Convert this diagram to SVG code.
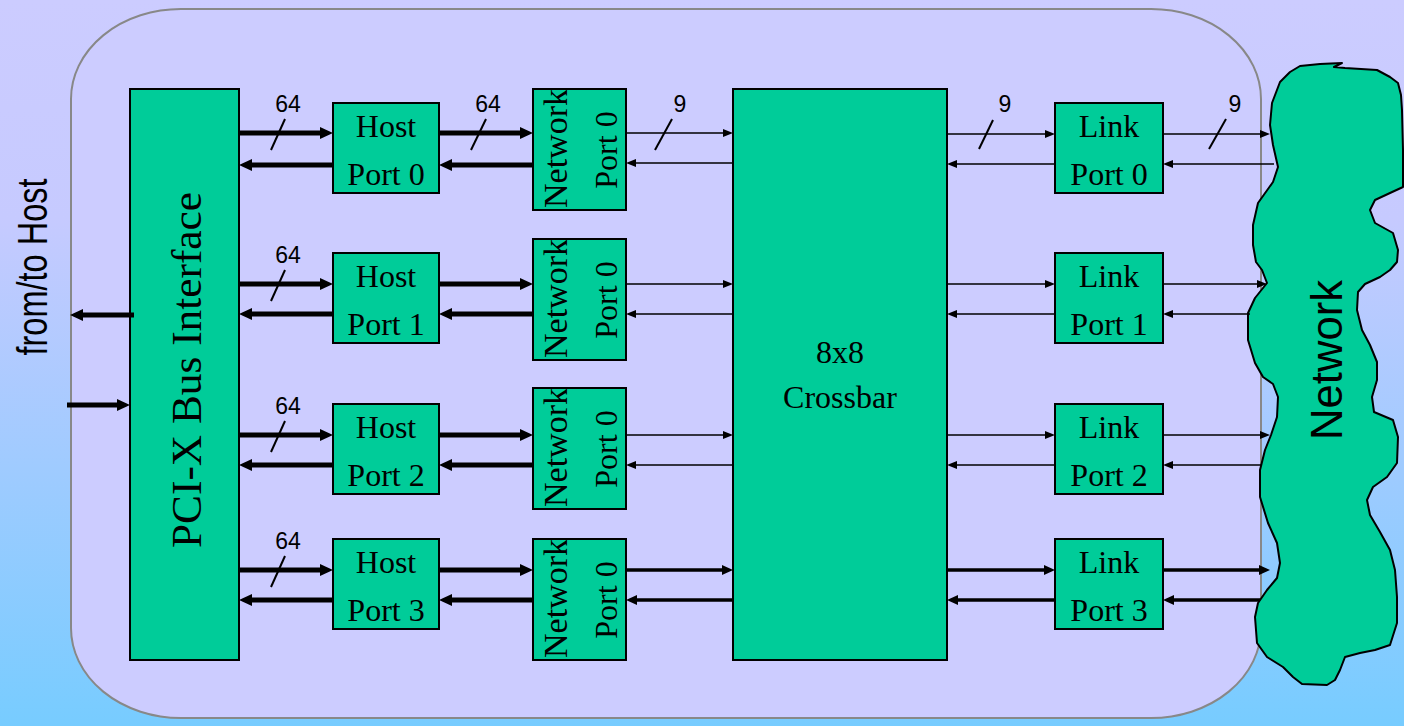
<svg xmlns="http://www.w3.org/2000/svg" width="1404" height="726" viewBox="0 0 1404 726">
<defs>
  <linearGradient id="bg" x1="0" y1="0" x2="0" y2="1">
    <stop offset="0" stop-color="#CCCCFF"/>
    <stop offset="0.3" stop-color="#C6CAFF"/>
    <stop offset="1" stop-color="#77CCFF"/>
  </linearGradient>
  <marker id="hT" markerUnits="userSpaceOnUse" viewBox="0 -7 14 14" markerWidth="14" markerHeight="14" refX="0" refY="0" orient="auto">
    <path d="M0,-6 L13,0 L0,6 z" fill="#000"/>
  </marker>
  <marker id="hM" markerUnits="userSpaceOnUse" viewBox="0 -6 12 12" markerWidth="12" markerHeight="12" refX="0" refY="0" orient="auto">
    <path d="M0,-5 L11,0 L0,5 z" fill="#000"/>
  </marker>
  <marker id="hS" markerUnits="userSpaceOnUse" viewBox="0 -5 11 10" markerWidth="11" markerHeight="10" refX="0" refY="0" orient="auto">
    <path d="M0,-4 L10,0 L0,4 z" fill="#000"/>
  </marker>
</defs>
<style>
  .box { fill: #00CC99; stroke: #000; stroke-width: 2; }
  .serif { font-family: "Liberation Serif", "Times New Roman", serif; fill: #000; }
  .sans { font-family: "Liberation Sans", Arial, sans-serif; fill: #000; }
  .t32 { font-size: 32px; }
  .lbl { font-size: 23px; text-anchor: middle; }
  .mid { text-anchor: middle; }
  .thick { stroke: #000; stroke-width: 5; fill: none; marker-end: url(#hT); }
  .med { stroke: #000; stroke-width: 3.5; fill: none; marker-end: url(#hM); }
  .thin { stroke: #000; stroke-width: 1.5; fill: none; marker-end: url(#hS); }
  .slash { stroke: #000; stroke-width: 2; fill: none; }
</style>

<rect x="0" y="0" width="1404" height="726" fill="url(#bg)"/>

<g id="container">
  <rect x="71" y="9" width="1190" height="709" rx="110" ry="90" fill="#CCCCFF" stroke="#888888" stroke-width="2"/>
</g>

<g id="label-host">
  <text class="sans mid" font-size="42" textLength="177" lengthAdjust="spacingAndGlyphs" transform="translate(47,267) rotate(-90)">from/to Host</text>
</g>

<g id="pci">
  <rect class="box" x="130" y="89" width="109" height="571"/>
  <text class="serif mid" font-size="42" textLength="356" lengthAdjust="spacingAndGlyphs" transform="translate(201,370) rotate(-90)">PCI-X Bus Interface</text>
</g>

<g id="host0">
  <rect class="box" x="333" y="103" width="106" height="90"/>
  <text class="serif t32 mid" x="386" y="137">Host</text>
  <text class="serif t32 mid" x="386" y="185">Port 0</text>
</g>
<g id="host1">
  <rect class="box" x="333" y="253" width="106" height="90"/>
  <text class="serif t32 mid" x="386" y="287">Host</text>
  <text class="serif t32 mid" x="386" y="335">Port 1</text>
</g>
<g id="host2">
  <rect class="box" x="333" y="404" width="106" height="90"/>
  <text class="serif t32 mid" x="386" y="438">Host</text>
  <text class="serif t32 mid" x="386" y="486">Port 2</text>
</g>
<g id="host3">
  <rect class="box" x="333" y="539" width="106" height="90"/>
  <text class="serif t32 mid" x="386" y="573">Host</text>
  <text class="serif t32 mid" x="386" y="621">Port 3</text>
</g>

<g id="net0">
  <rect class="box" x="533" y="89" width="93" height="121"/>
  <text class="serif" font-size="33" textLength="119" lengthAdjust="spacingAndGlyphs" transform="translate(567,208) rotate(-90)">Network</text>
  <text class="serif t32 mid" transform="translate(617,150) rotate(-90)">Port 0</text>
</g>
<g id="net1">
  <rect class="box" x="533" y="239" width="93" height="121"/>
  <text class="serif" font-size="33" textLength="119" lengthAdjust="spacingAndGlyphs" transform="translate(567,358) rotate(-90)">Network</text>
  <text class="serif t32 mid" transform="translate(617,300) rotate(-90)">Port 0</text>
</g>
<g id="net2">
  <rect class="box" x="533" y="388" width="93" height="121"/>
  <text class="serif" font-size="33" textLength="119" lengthAdjust="spacingAndGlyphs" transform="translate(567,507) rotate(-90)">Network</text>
  <text class="serif t32 mid" transform="translate(617,449) rotate(-90)">Port 0</text>
</g>
<g id="net3">
  <rect class="box" x="533" y="539" width="93" height="121"/>
  <text class="serif" font-size="33" textLength="119" lengthAdjust="spacingAndGlyphs" transform="translate(567,658) rotate(-90)">Network</text>
  <text class="serif t32 mid" transform="translate(617,600) rotate(-90)">Port 0</text>
</g>

<g id="crossbar">
  <rect class="box" x="733" y="89" width="214" height="571"/>
  <text class="serif t32 mid" x="840" y="363">8x8</text>
  <text class="serif t32 mid" x="840" y="408">Crossbar</text>
</g>

<g id="link0">
  <rect class="box" x="1055" y="103" width="108" height="90"/>
  <text class="serif t32 mid" x="1109" y="137">Link</text>
  <text class="serif t32 mid" x="1109" y="185">Port 0</text>
</g>
<g id="link1">
  <rect class="box" x="1055" y="253" width="108" height="90"/>
  <text class="serif t32 mid" x="1109" y="287">Link</text>
  <text class="serif t32 mid" x="1109" y="335">Port 1</text>
</g>
<g id="link2">
  <rect class="box" x="1055" y="404" width="108" height="90"/>
  <text class="serif t32 mid" x="1109" y="438">Link</text>
  <text class="serif t32 mid" x="1109" y="486">Port 2</text>
</g>
<g id="link3">
  <rect class="box" x="1055" y="539" width="108" height="90"/>
  <text class="serif t32 mid" x="1109" y="573">Link</text>
  <text class="serif t32 mid" x="1109" y="621">Port 3</text>
</g>

<g id="network">
  <path class="box" stroke-linejoin="round" d="M1280,82 L1290,72 L1300,66 L1320,64 L1342,63 L1334,67 L1345,68 L1377,70 L1390,77 L1398,83 L1401,95 L1402,110 L1403,150 L1403,187 L1390,193 L1375,200 L1370,210 L1375,223 L1393,233 L1398,250 L1397,262 L1390,270 L1380,277 L1365,284 L1358,292 L1357,310 L1362,330 L1370,345 L1377,362 L1377,380 L1372,397 L1374,412 L1393,420 L1398,437 L1397,463 L1387,477 L1373,487 L1367,500 L1370,515 L1380,532 L1390,550 L1395,570 L1397,597 L1397,623 L1390,645 L1375,650 L1360,653 L1345,657 L1340,670 L1335,680 L1327,685 L1302,684 L1293,677 L1283,667 L1267,657 L1257,643 L1255,617 L1258,603 L1267,590 L1277,578 L1280,563 L1277,543 L1268,523 L1260,497 L1260,470 L1265,450 L1271,435 L1277,417 L1278,397 L1273,384 L1263,377 L1255,363 L1248,340 L1248,313 L1255,298 L1267,283 L1262,270 L1256,262 L1253,245 L1253,225 L1258,203 L1273,182 L1278,167 L1273,145 L1270,125 L1272,103 Z"/>
  <text class="sans mid" font-size="44" textLength="160" lengthAdjust="spacingAndGlyphs" transform="translate(1342,360) rotate(-90)">Network</text>
</g>

<g id="connectors">
  <!-- host side -->
  <path class="thick" d="M134,315 H83"/>
  <path class="thick" d="M67,405 H117"/>

  <!-- row 0 -->
  <path class="thick" d="M239,133 H320"/>
  <path class="thick" d="M333,165 H252"/>
  <path class="thick" d="M439,133 H520"/>
  <path class="thick" d="M533,165 H452"/>
  <path class="thin" d="M626,133 H723"/>
  <path class="thin" d="M733,163 H636"/>
  <path class="thin" d="M947,134 H1045"/>
  <path class="thin" d="M1055,164 H957"/>
  <path class="thin" d="M1163,134 H1260"/>
  <path class="thin" d="M1274,164 H1173"/>

  <!-- row 1 -->
  <path class="thick" d="M239,284 H320"/>
  <path class="thick" d="M333,314 H252"/>
  <path class="thick" d="M439,284 H520"/>
  <path class="thick" d="M533,314 H452"/>
  <path class="thin" d="M626,284 H723"/>
  <path class="thin" d="M733,314 H636"/>
  <path class="thin" d="M947,284 H1045"/>
  <path class="thin" d="M1055,314 H957"/>
  <path class="thin" d="M1163,284 H1257"/>
  <path class="thin" d="M1250,314 H1173"/>

  <!-- row 2 -->
  <path class="thick" d="M239,435 H320"/>
  <path class="thick" d="M333,465 H252"/>
  <path class="thick" d="M439,435 H520"/>
  <path class="thick" d="M533,465 H452"/>
  <path class="thin" d="M626,435 H723"/>
  <path class="thin" d="M733,465 H636"/>
  <path class="thin" d="M947,435 H1045"/>
  <path class="thin" d="M1055,465 H957"/>
  <path class="thin" d="M1163,435 H1260"/>
  <path class="thin" d="M1262,465 H1173"/>

  <!-- row 3 -->
  <path class="thick" d="M239,570 H320"/>
  <path class="thick" d="M333,600 H252"/>
  <path class="thick" d="M439,570 H520"/>
  <path class="thick" d="M533,600 H452"/>
  <path class="med" d="M626,570 H722"/>
  <path class="med" d="M733,600 H637"/>
  <path class="med" d="M947,570 H1044"/>
  <path class="med" d="M1055,600 H958"/>
  <path class="med" d="M1163,570 H1259"/>
  <path class="med" d="M1260,600 H1174"/>

  <!-- bus width slashes -->
  <path class="slash" d="M271,150 L285,119"/>
  <path class="slash" d="M471,150 L486,119"/>
  <path class="slash" d="M655,150 L672,119"/>
  <path class="slash" d="M979,149 L993,120"/>
  <path class="slash" d="M1209,149 L1226,119"/>
  <path class="slash" d="M271,301 L285,270"/>
  <path class="slash" d="M271,452 L285,421"/>
  <path class="slash" d="M271,587 L285,556"/>

  <!-- bus width labels -->
  <text class="sans lbl" x="288" y="112">64</text>
  <text class="sans lbl" x="488" y="112">64</text>
  <text class="sans lbl" x="680" y="112">9</text>
  <text class="sans lbl" x="1005" y="112">9</text>
  <text class="sans lbl" x="1235" y="112">9</text>
  <text class="sans lbl" x="288" y="263">64</text>
  <text class="sans lbl" x="288" y="414">64</text>
  <text class="sans lbl" x="288" y="549">64</text>
</g>
</svg>
